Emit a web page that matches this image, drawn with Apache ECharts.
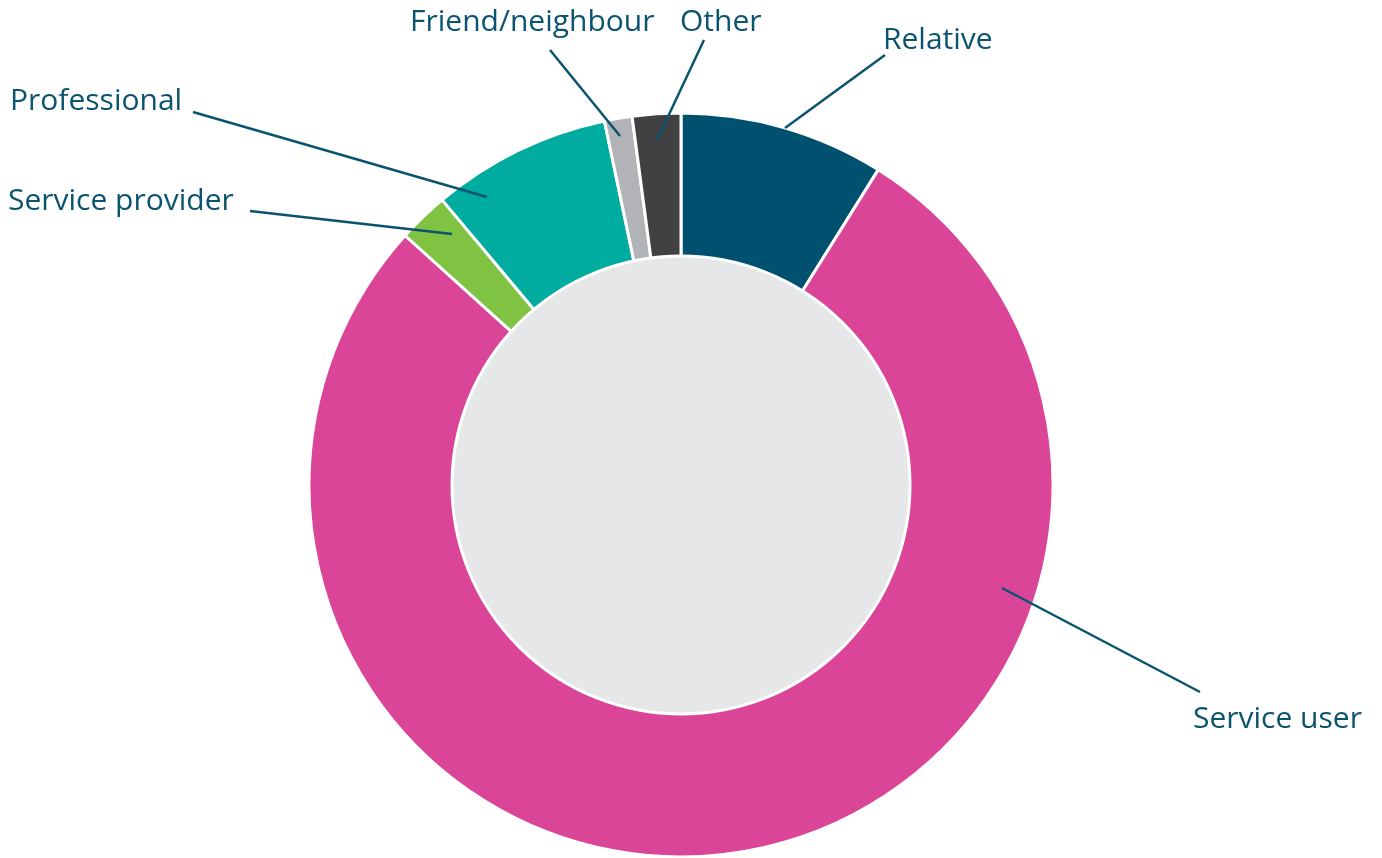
<!DOCTYPE html>
<html>
<head>
<meta charset="utf-8">
<script src="https://cdn.jsdelivr.net/npm/echarts@6/dist/echarts.min.js"></script>
<style>
  html, body { margin: 0; padding: 0; background: #fff; }
  #chart { width: 1382px; height: 858px; }
</style>
</head>
<body>
<div id="chart"></div>
<script>
// share of referrals by source (percent)
const categories = ['Relative', 'Service user', 'Service provider', 'Professional', 'Friend/neighbour', 'Other']
const values = [8.9, 77.8, 2.2, 7.8, 1.2, 2.1]
const colors = ['#00506f', '#db4598', '#80c342', '#00aba0', '#b1b3b6', '#414042']

// where each label sits and where its leader line runs (pixels)
const labelSpots = [
  {x: 883, y: 40, from: [785, 128], to: [885, 55]},
  {x: 1193, y: 719, from: [1002, 588], to: [1200, 692]},
  {x: 8, y: 201, from: [452, 234], to: [250, 211]},
  {x: 10, y: 101, from: [487, 197], to: [193, 112]},
  {x: 410, y: 22, from: [620, 136], to: [550, 50]},
  {x: 680, y: 22, from: [657, 140], to: [704, 40]}
]

const textColor = '#0b5470'
const center = [681, 485]
const chart = echarts.init(document.getElementById('chart'))

const pieData = categories.map((name, i) => ({name, value: values[i], itemStyle: {color: colors[i]}}))

const option = {
  animation: false,
  series: [
    {
      type: 'pie',
      center: center,
      radius: [226, 372],
      startAngle: 90,
      clockwise: true,
      silent: true,
      itemStyle: {borderColor: '#fff', borderWidth: 3},
      label: {show: false},
      labelLine: {show: false},
      data: pieData
    },
    {
      type: 'pie',
      center: center,
      radius: [0, 229],
      silent: true,
      label: {show: false},
      labelLine: {show: false},
      itemStyle: {color: '#e6e7e9', borderColor: '#fff', borderWidth: 3},
      data: [{value: 1, name: ''}]
    },
    {
      // invisible copy, only carries the labels and leader lines
      type: 'pie',
      center: center,
      radius: [300, 340],
      startAngle: 90,
      clockwise: true,
      silent: true,
      z: 5,
      avoidLabelOverlap: false,
      itemStyle: {color: 'rgba(0,0,0,0)', borderWidth: 0},
      label: {
        show: true,
        position: 'outside',
        color: textColor,
        fontFamily: 'Open Sans',
        fontSize: 30
      },
      labelLine: {show: true, showAbove: true, length: 10, length2: 10, lineStyle: {color: textColor, width: 2.5}},
      labelLayout: function (params) {
        const s = labelSpots[params.dataIndex]
        return {
          x: s.x,
          y: s.y,
          align: 'left',
          verticalAlign: 'middle',
          labelLinePoints: [s.from, s.to, s.to]
        }
      },
      data: categories.map((name, i) => ({name, value: values[i]}))
    }
  ]
}
chart.setOption(option)
</script>
</body>
</html>
